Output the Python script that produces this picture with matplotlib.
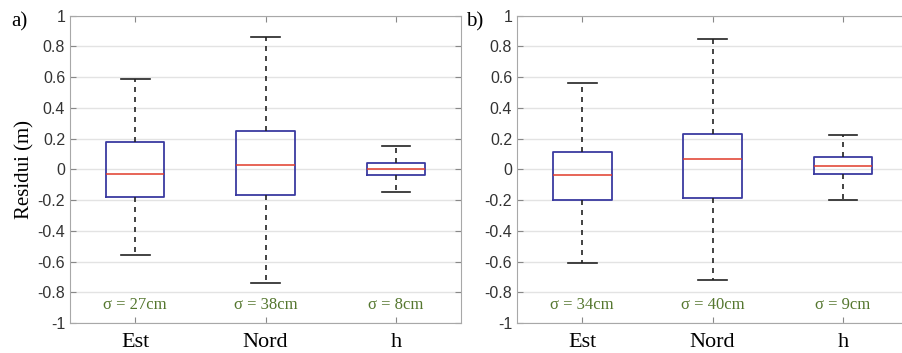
import matplotlib
matplotlib.use("Agg")
import matplotlib.pyplot as plt

categories = ["Est", "Nord", "h"]

# panel a) box stats: lower whisker, Q1, median, Q3, upper whisker
a_low = [-0.56, -0.74, -0.15]
a_q1 = [-0.18, -0.17, -0.04]
a_med = [-0.03, 0.03, 0.0]
a_q3 = [0.18, 0.25, 0.04]
a_high = [0.59, 0.86, 0.15]
a_sigma = ["σ = 27cm", "σ = 38cm", "σ = 8cm"]

# panel b)
b_low = [-0.61, -0.72, -0.20]
b_q1 = [-0.20, -0.19, -0.03]
b_med = [-0.04, 0.07, 0.02]
b_q3 = [0.11, 0.23, 0.08]
b_high = [0.56, 0.85, 0.22]
b_sigma = ["σ = 34cm", "σ = 40cm", "σ = 9cm"]

serif = "Liberation Serif"
sans = "Liberation Sans"
grid_c = "#e3e3e3"
spine_c = "#a8a8a8"
box_c = "#3a3aa0"
green = "#55772f"


def draw(ax, low, q1, med, q3, high, sigmas, show_ylabel):
    stats = []
    for i in range(len(categories)):
        stats.append(dict(whislo=low[i], q1=q1[i], med=med[i], q3=q3[i],
                          whishi=high[i], fliers=[], label=categories[i]))
    ax.bxp(stats, positions=[1, 2, 3], widths=0.45, showfliers=False,
           boxprops=dict(color=box_c, linewidth=1.3),
           medianprops=dict(color="#e03a2a", linewidth=1.1),
           whiskerprops=dict(color="#222222", linestyle=(0, (3, 3)), linewidth=1.2),
           capprops=dict(color="#222222", linewidth=1.2),
           capwidths=0.22)
    ax.set_xlim(0.5, 3.5)
    ax.set_ylim(-1, 1)
    ax.set_yticks([-1, -0.8, -0.6, -0.4, -0.2, 0, 0.2, 0.4, 0.6, 0.8, 1])
    ax.set_yticklabels(["-1", "-0.8", "-0.6", "-0.4", "-0.2", "0", "0.2",
                        "0.4", "0.6", "0.8", "1"], fontfamily=sans, fontsize=11.5,
                       color="#333333")
    ax.set_xticks([1, 2, 3])
    ax.set_xticklabels(categories, fontfamily=serif, fontsize=16)
    ax.yaxis.grid(True, color=grid_c, linewidth=1)
    ax.set_axisbelow(True)
    ax.tick_params(direction="in", length=4, color="#888888", top=True, right=True)
    ax.tick_params(axis="x", pad=7)
    for s in ax.spines.values():
        s.set_color(spine_c)
    for i, s in enumerate(sigmas):
        ax.text(i + 1, -0.885, s, ha="center", va="center", color=green,
                fontfamily=serif, fontsize=12)
    if show_ylabel:
        ax.set_ylabel("Residui (m)", fontfamily=serif, fontsize=15, labelpad=2)


fig = plt.figure(figsize=(9.02, 3.53), dpi=100)
ax1 = fig.add_axes([0.0776, 0.085, 0.4335, 0.871])
ax2 = fig.add_axes([0.5732, 0.085, 0.4335, 0.871])

draw(ax1, a_low, a_q1, a_med, a_q3, a_high, a_sigma, True)
draw(ax2, b_low, b_q1, b_med, b_q3, b_high, b_sigma, False)

fig.text(0.012, 0.925, "a)", fontfamily=serif, fontsize=15)
fig.text(0.517, 0.925, "b)", fontfamily=serif, fontsize=15)

fig.savefig("out.png", dpi=100)
